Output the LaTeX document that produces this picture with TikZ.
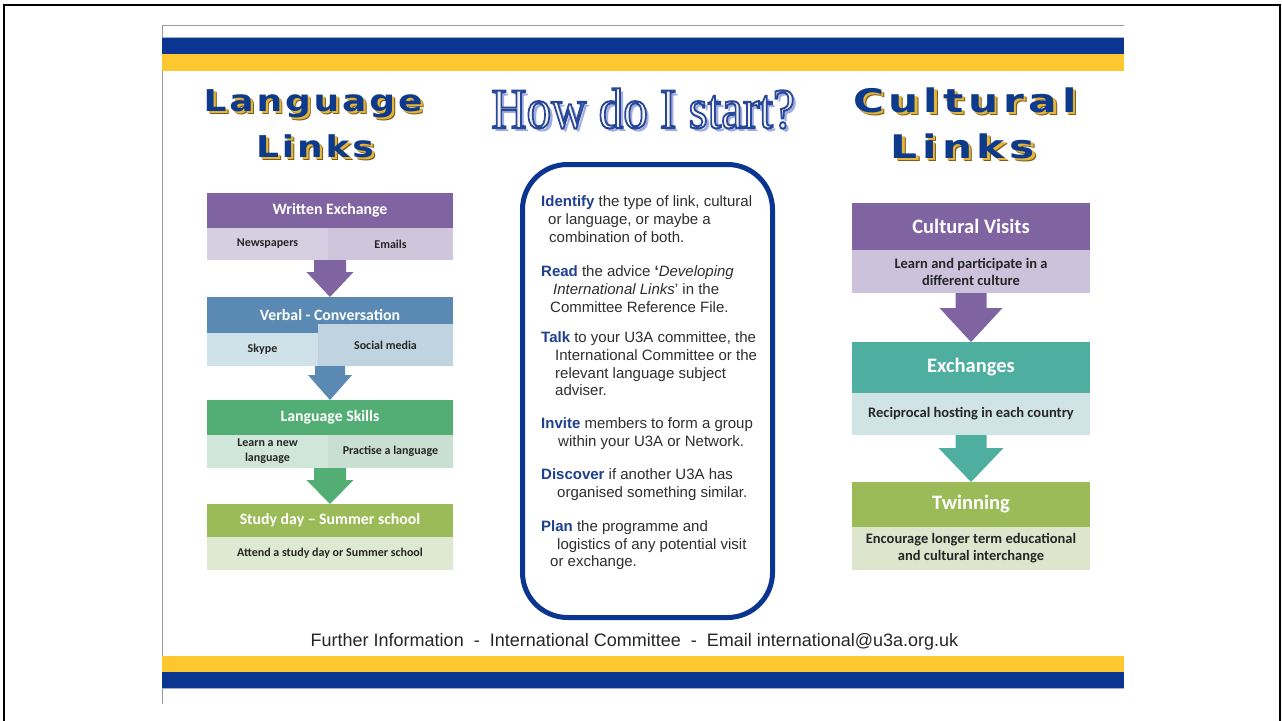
\documentclass[tikz,border=0pt]{standalone}
\usepackage{fontspec}
\setmainfont{Liberation Sans}
\newfontfamily\calib{Carlito}
\newfontfamily\serifttl{Liberation Serif}
\newfontfamily\ttlA[LetterSpace=8]{DejaVu Sans}
\newfontfamily\ttlC[LetterSpace=11.5]{DejaVu Sans}
\usetikzlibrary{calc}
\definecolor{ublue}{HTML}{0A3590}
\definecolor{uyellow}{HTML}{FDC82F}
\definecolor{ttlblue}{HTML}{0E3A8C}
\definecolor{shadgold}{HTML}{E3B53A}
\definecolor{shadbrown}{HTML}{7A5C1A}
\definecolor{hwblue}{HTML}{27479A}
\definecolor{hwfill}{HTML}{F6F3EA}
\definecolor{hwshad}{HTML}{A3ACE0}
\definecolor{kwblue}{HTML}{1F3F8F}
\definecolor{txtgray}{HTML}{2E2E2E}
\definecolor{purp}{HTML}{8064A2}
\definecolor{blu}{HTML}{5A8AB4}
\definecolor{grn}{HTML}{52AE74}
\definecolor{olv}{HTML}{9BBB59}
\definecolor{teal2}{HTML}{4EAE9F}
\definecolor{lavA}{HTML}{D6CFE2}
\definecolor{lavB}{HTML}{CFC6DC}
\definecolor{bluA}{HTML}{CFE2EA}
\definecolor{bluB}{HTML}{BFD3E0}
\definecolor{grnA}{HTML}{D0E6D9}
\definecolor{grnB}{HTML}{C8DFD2}
\definecolor{olvA}{HTML}{DFE8D0}
\definecolor{lavC}{HTML}{CDC2DB}
\definecolor{tealA}{HTML}{D0E4E5}
\definecolor{olvC}{HTML}{DDE6CC}
\newcommand\kw[1]{\textbf{\color{kwblue}#1}}
\newcommand\wtitle[6]{%
  \node[anchor=base, inner sep=0, text=shadbrown, font=#4] (#1s2) at (#2+3.2,#3+3.2) {\scalebox{#6}[1]{#5}};
  \node[anchor=base, inner sep=0, text=shadgold, font=#4] (#1s1) at (#2+2.3,#3+2.3) {\scalebox{#6}[1]{#5}};
  \node[anchor=base, inner sep=0, text=ttlblue, font=#4] (#1) at (#2,#3) {\scalebox{#6}[1]{#5}};}
\newcommand\blockarrow[6]{%
  \fill[#1] let \p1=(#2.south), \p2=(#3.north) in
    (\x2-#4pt,\y1) -- (\x2+#4pt,\y1) -- (\x2+#4pt,\y1-#6pt) -- (\x2+#5pt,\y1-#6pt)
    -- (\x2,\y2) -- (\x2-#5pt,\y1-#6pt) -- (\x2-#4pt,\y1-#6pt) -- cycle;}
\newcommand\outlinetext[1]{\special{pdf:literal direct 0.153 0.278 0.604 RG 2 w 2 Tr}#1\special{pdf:literal direct 0 Tr}}
\tikzset{
  hdrL/.style={rectangle, inner sep=0, outer sep=0, text=white, font=\calib\bfseries\fontsize{15.8}{18}\selectfont},
  subL/.style={rectangle, inner sep=0, outer sep=0, text=black!85, align=center, font=\calib\bfseries\fontsize{12}{15}\selectfont},
  hdrR/.style={rectangle, inner sep=0, outer sep=0, text=white, font=\calib\bfseries\fontsize{20.5}{24}\selectfont},
  subR/.style={rectangle, inner sep=0, outer sep=0, text=black!85, align=center, font=\calib\bfseries\fontsize{14.5}{17}\selectfont},
  ctext/.style={anchor=base west, inner sep=0, text=txtgray, font=\fontsize{15}{18}\selectfont},
  hwfont/.style={anchor=base, inner sep=0, font=\serifttl\fontsize{57}{60}\selectfont}
}
\begin{document}
\begin{tikzpicture}[x=1pt,y=-1pt]
\useasboundingbox (0,0) rectangle (1282,720);
\fill[white] (0,0) rectangle (1282,720);
% outer frame
\draw[line width=2.5pt, black] (4,725) -- (4,5) -- (1280,5) -- (1280,725);
% slide edges
\draw[black!40, line width=1pt] (162,704) -- (162,25.5) -- (1124,25.5);
% bands
\fill[ublue!40] (162,37) rectangle (1124,38);
\fill[ublue] (162,38) rectangle (1124,54);
\fill[uyellow] (162,54) rectangle (1124,70.5);
\fill[uyellow] (162,656) rectangle (1124,672);
\fill[ublue] (162,672) rectangle (1124,688);
\fill[ublue!40] (162,688) rectangle (1124,689);

% side titles
\wtitle{tl1}{313}{111}{\ttlA\bfseries\fontsize{30}{36}\selectfont}{Language}{1.2}
\wtitle{tl2}{315}{157}{\ttlA\bfseries\fontsize{30}{36}\selectfont}{Links}{1.2}
\wtitle{tr1}{965}{112}{\ttlC\bfseries\fontsize{32.5}{38}\selectfont}{Cultural}{1.3}
\wtitle{tr2}{963}{158}{\ttlC\bfseries\fontsize{32.5}{38}\selectfont}{Links}{1.3}

% center title
\node[hwfont, text=hwshad] (hws) at (646.5,131) {\scalebox{0.86}[1]{How do I start?}};
\node[hwfont, text=hwfill] (hw) at (643,128) {\scalebox{0.86}[1]{\outlinetext{How do I start?}}};

% center panel
\node[draw=ublue, line width=5pt, rounded corners=45pt, minimum width=250pt, minimum height=453pt, inner sep=0] (panel) at (647.5,391) {};
\node[ctext] (c1) at (541,206) {\kw{Identify} the type of link, cultural};
\node[ctext] (c2) at (548,224) {or language, or maybe a};
\node[ctext] (c3) at (549,242) {combination of both.};
\node[ctext] (c4) at (541,276) {\kw{Read} the advice \textbf{‘}\textit{Developing}};
\node[ctext] (c5) at (553,294) {\textit{International Links}’ in the};
\node[ctext] (c6) at (550,312) {Committee Reference File.};
\node[ctext] (c7) at (541,342) {\kw{Talk} to your U3A committee, the};
\node[ctext] (c8) at (555,360) {International Committee or the};
\node[ctext] (c9) at (555,378) {relevant language subject};
\node[ctext] (c10) at (555,395) {adviser.};
\node[ctext] (c11) at (541,428) {\kw{Invite} members to form a group};
\node[ctext] (c12) at (558,446) {within your U3A or Network.};
\node[ctext] (c13) at (541,479) {\kw{Discover} if another U3A has};
\node[ctext] (c14) at (557,497) {organised something similar.};
\node[ctext] (c15) at (541,531) {\kw{Plan} the programme and};
\node[ctext] (c16) at (557,549) {logistics of any potential visit};
\node[ctext] (c17) at (550,566) {or exchange.};

% left column
\node[hdrL, fill=purp, minimum width=246pt, minimum height=35pt] (w1) at (330,210.5) {Written Exchange};
\node[subL, fill=lavA, minimum width=121pt, minimum height=32pt] (w1a) at (267.5,244) {Newspapers};
\node[subL, fill=lavB, minimum width=125pt, minimum height=32pt] (w1b) at (390.5,244) {Emails};
\node[hdrL, fill=blu, minimum width=246pt, minimum height=36pt] (v1) at (330,315) {Verbal - Conversation};
\node[subL, fill=bluA, minimum width=111pt, minimum height=33pt] (v1a) at (262.5,349.5) {Skype};
\node[subL, fill=bluB, minimum width=135pt, minimum height=42pt] (v1b) at (385.5,345) {Social media};
\node[hdrL, fill=grn, minimum width=246pt, minimum height=35pt] (l1) at (330,417.5) {Language Skills};
\node[subL, fill=grnA, minimum width=121pt, minimum height=33pt] (l1a) at (267.5,451.5) {Learn a new\\language};
\node[subL, fill=grnB, minimum width=125pt, minimum height=33pt] (l1b) at (390.5,451.5) {Practise a language};
\node[hdrL, fill=olv, minimum width=246pt, minimum height=33pt] (s1) at (330,520.5) {Study day – Summer school};
\node[subL, fill=olvA, minimum width=246pt, minimum height=33pt] (s1a) at (330,553.5) {Attend a study day or Summer school};

\blockarrow{purp}{w1a}{v1}{16}{23.5}{12}
\blockarrow{blu}{v1a}{l1}{15}{22}{9}
\blockarrow{grn}{l1a}{s1}{16}{23.5}{12}

% right column
\node[hdrR, fill=purp, minimum width=238pt, minimum height=47pt] (cv) at (971,226.5) {Cultural Visits};
\node[subR, fill=lavC, minimum width=238pt, minimum height=43pt] (cva) at (971,271.5) {Learn and participate in a\\different culture};
\node[hdrR, fill=teal2, minimum width=238pt, minimum height=51pt] (ex) at (971,367.5) {Exchanges};
\node[subR, fill=tealA, minimum width=238pt, minimum height=42pt] (exa) at (971,414) {Reciprocal hosting in each country};
\node[hdrR, fill=olv, minimum width=238pt, minimum height=45pt] (tw) at (971,504.5) {Twinning};
\node[subR, fill=olvC, minimum width=238pt, minimum height=43pt] (twa) at (971,548.5) {Encourage longer term educational\\and cultural interchange};

\blockarrow{purp}{cva}{ex}{15.5}{31.5}{15}
\blockarrow{teal2}{exa}{tw}{15.5}{32.5}{13}

% footer
\node[anchor=base, inner sep=0, text=black!85, font=\fontsize{18}{20}\selectfont] (foot) at (634.5,646) {Further Information\ \ -\ \ International Committee\ \ -\ \ Email international@u3a.org.uk};
\end{tikzpicture}
\end{document}
